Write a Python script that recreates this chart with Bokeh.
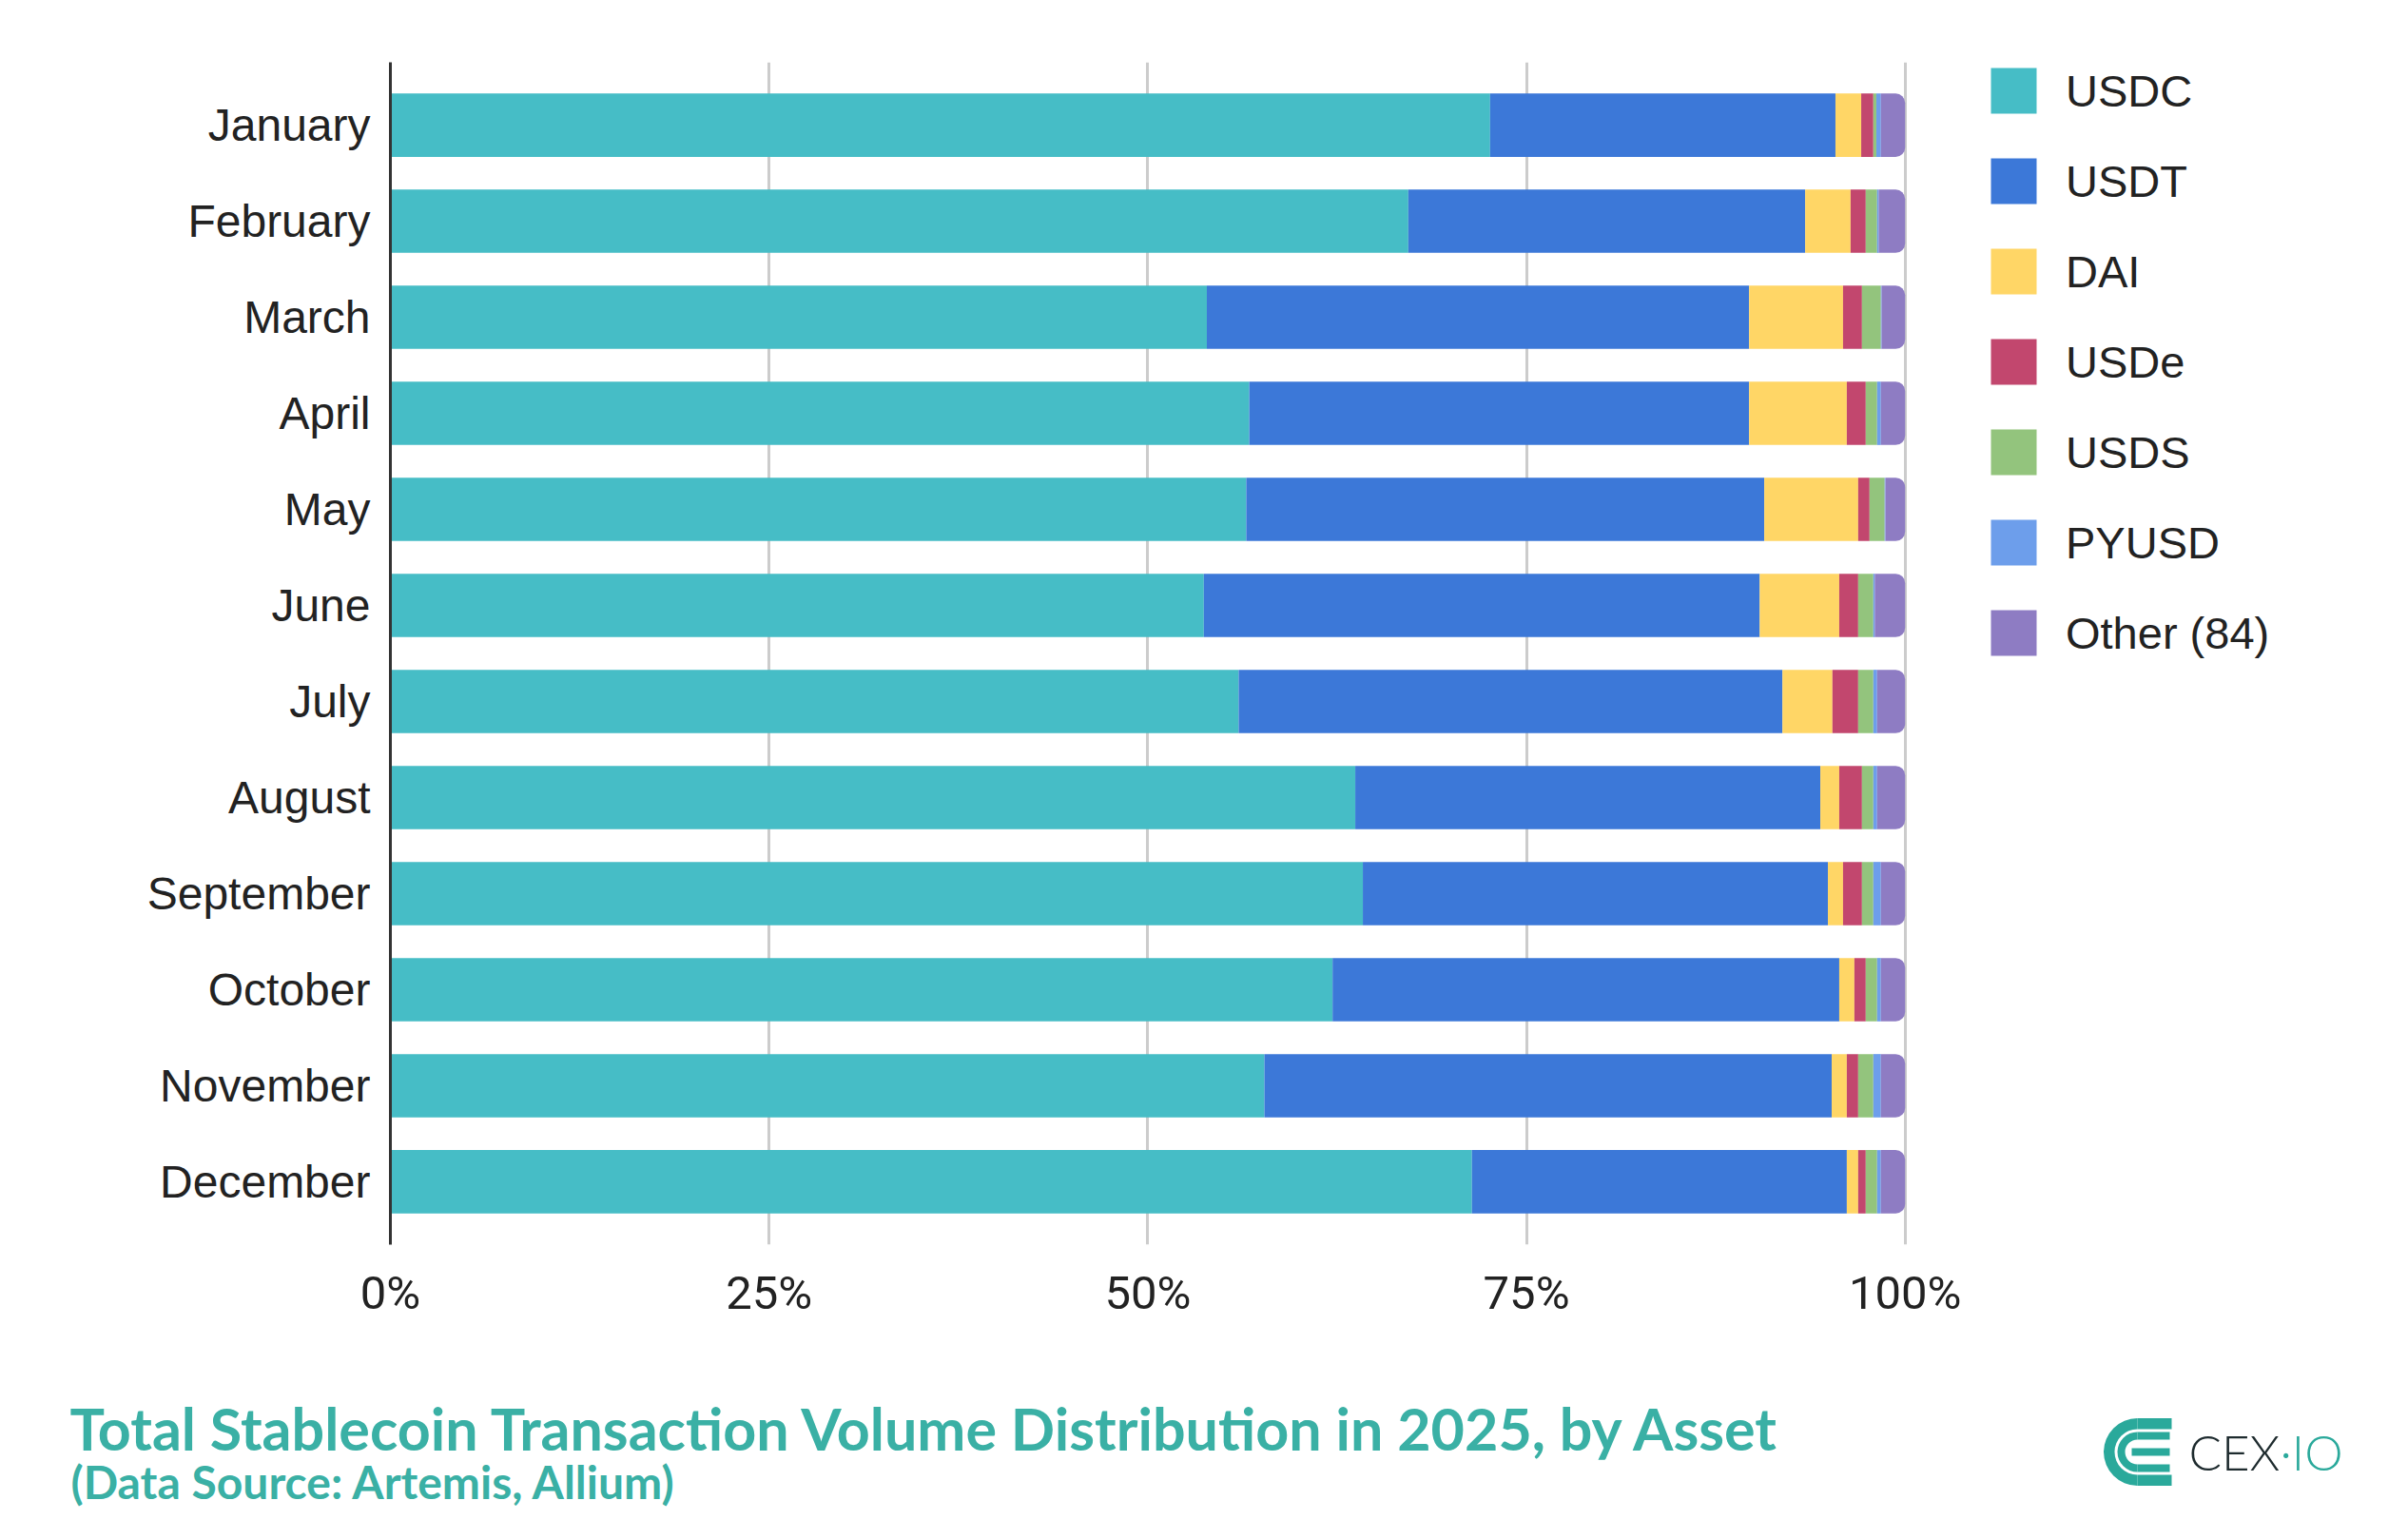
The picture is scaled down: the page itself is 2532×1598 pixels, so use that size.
from bokeh.plotting import figure
from bokeh.layouts import column, row
from bokeh.models import (ColumnDataSource, Range1d, FixedTicker, Legend, LegendItem,
                          PrintfTickFormatter)
from bokeh.core.properties import value
from bokeh.embed import file_html
from bokeh.resources import INLINE

months = ["January", "February", "March", "April", "May", "June", "July",
          "August", "September", "October", "November", "December"]
assets = ["USDC", "USDT", "DAI", "USDe", "USDS", "PYUSD", "Other (84)"]
usdc = [72.6, 67.2, 53.9, 56.7, 56.5, 53.7, 56.0, 63.7, 64.2, 62.2, 57.7, 71.4]
usdt = [22.8, 26.2, 35.8, 33.0, 34.2, 36.7, 35.9, 30.7, 30.7, 33.45, 37.45, 24.75]
dai = [1.7, 3.0, 6.2, 6.45, 6.2, 5.25, 3.3, 1.25, 1.0, 1.0, 1.0, 0.75]
usde = [0.8, 1.0, 1.25, 1.25, 0.75, 1.25, 1.7, 1.5, 1.25, 0.75, 0.75, 0.5]
usds = [0.2, 0.75, 1.25, 0.75, 1.0, 1.0, 1.0, 0.75, 0.75, 0.75, 1.0, 0.75]
pyusd = [0.3, 0.1, 0.05, 0.25, 0.05, 0.1, 0.25, 0.25, 0.5, 0.25, 0.5, 0.25]
other = [1.6, 1.75, 1.55, 1.6, 1.3, 2.0, 1.85, 1.85, 1.6, 1.6, 1.6, 1.6]
x_ticks = [0, 25, 50, 75, 100]

title_text = "Total Stablecoin Transaction Volume Distribution in 2025, by Asset"
subtitle_text = "(Data Source: Artemis, Allium)"

colors = ["#46BDC6", "#3C78D8", "#FFD666", "#C2476E", "#93C47D", "#6D9EEB", "#8E7CC3"]
series = [usdc, usdt, dai, usde, usds, pyusd, other]

TEAL = "#3AB0A5"
LOGO = "#2AA99B"
INK = "#222222"
W = 2516

data = {"y": list(range(len(months)))}
running = [0.0] * len(months)
for i, vals in enumerate(series):
    data[f"l{i}"] = list(running)
    running = [r + v for r, v in zip(running, vals)]
    data[f"r{i}"] = list(running)
src = ColumnDataSource(data)

# ---------------- main chart ----------------
FW = 1677
p = figure(output_backend="svg", toolbar_location=None,
           frame_width=FW, frame_height=1243,
           min_border_left=410, min_border_right=W - 410 - FW,
           min_border_top=65, min_border_bottom=92,
           x_range=Range1d(0, 105.29),
           y_range=Range1d(len(months) - 1 + 0.654, -0.654),
           background_fill_color="white", border_fill_color="white")
p.outline_line_color = None

renderers = []
for i, name in enumerate(assets):
    kw = {}
    if i == len(assets) - 1:
        kw["border_radius"] = (0, 10, 10, 0)
    r = p.hbar(y="y", left=f"l{i}", right=f"r{i}", height=0.66, source=src,
               fill_color=colors[i], line_color=None, **kw)
    renderers.append(r)

xa = p.xaxis[0]
xa.ticker = FixedTicker(ticks=x_ticks)
xa.formatter = PrintfTickFormatter(format="%d%%")
xa.axis_line_color = None
xa.major_tick_line_color = None
xa.minor_tick_line_color = None
xa.major_label_standoff = 16
xa.major_label_text_font = "Roboto"
xa.major_label_text_font_size = "49px"
xa.major_label_text_color = INK

ya = p.yaxis[0]
ya.ticker = FixedTicker(ticks=list(range(len(months))))
ya.major_label_overrides = {i: m for i, m in enumerate(months)}
ya.axis_line_color = "#333333"
ya.axis_line_width = 3
ya.major_tick_line_color = None
ya.minor_tick_line_color = None
ya.major_label_standoff = 15
ya.major_label_text_font = "Liberation Sans"
ya.major_label_text_font_size = "48px"
ya.major_label_text_color = INK

p.xgrid.ticker = FixedTicker(ticks=x_ticks[1:])
p.xgrid.grid_line_color = "#CCCCCC"
p.xgrid.grid_line_width = 3
p.ygrid.grid_line_color = None

legend = Legend(items=[LegendItem(label=a, renderers=[r]) for a, r in zip(assets, renderers)],
                location="top_left", orientation="vertical",
                glyph_width=60, glyph_height=60, label_height=48, spacing=35,
                padding=0, margin=0, label_standoff=25,
                label_text_font="Liberation Sans", label_text_font_size="47px",
                label_text_color=INK, background_fill_alpha=0, border_line_alpha=0)
p.add_layout(legend, "right")

# ---------------- footer: title, subtitle, logo ----------------
FH = 190
f = figure(output_backend="svg", toolbar_location=None,
           frame_width=W, frame_height=FH, min_border=0, title=None,
           x_range=Range1d(0, W), y_range=Range1d(FH, 0),
           x_axis_type=None, y_axis_type=None,
           background_fill_color="white", border_fill_color="white")
f.outline_line_color = None
f.grid.visible = False

f.text(x=[73], y=[101], text=[title_text], text_font=value("Lato"),
       text_font_style="bold", text_font_size="61px", text_color=TEAL,
       text_baseline="alphabetic")
f.text(x=[74], y=[157], text=[subtitle_text], text_font=value("Lato"),
       text_font_style="bold", text_font_size="48px", text_color=TEAL,
       text_baseline="alphabetic")

# logo mark: outer and inner "C" arcs with arms and a centre bar
cx, cy = 2247, 126
f.annular_wedge(x=[cx], y=[cy], inner_radius=24, outer_radius=35.5,
                start_angle=1.5708, end_angle=4.7124, color=LOGO, line_color=None)
f.annular_wedge(x=[cx], y=[cy], inner_radius=13, outer_radius=21,
                start_angle=1.5708, end_angle=4.7124, color=LOGO, line_color=None)
f.quad(left=[cx, cx, cx, cx, cx - 6], right=[cx + 36, cx + 36, cx + 34, cx + 34, cx + 34],
       top=[cy - 35.5, cy + 24, cy - 21, cy + 13, cy - 4],
       bottom=[cy - 24, cy + 35.5, cy - 13, cy + 21, cy + 4],
       color=LOGO, line_color=None)
f.text(x=[2301], y=[126], text=["CEX"], text_font=value("Lato Light, Lato"),
       text_font_size="51px", text_color="#1E2B2E", text_baseline="alphabetic")
f.text(x=[2397], y=[126], text=["·IO"], text_font=value("Lato Light, Lato"),
       text_font_size="51px", text_color=LOGO, text_baseline="alphabetic")

layout = column(row(p), row(f), spacing=0)
open("out.html", "w").write(file_html(layout, INLINE))
